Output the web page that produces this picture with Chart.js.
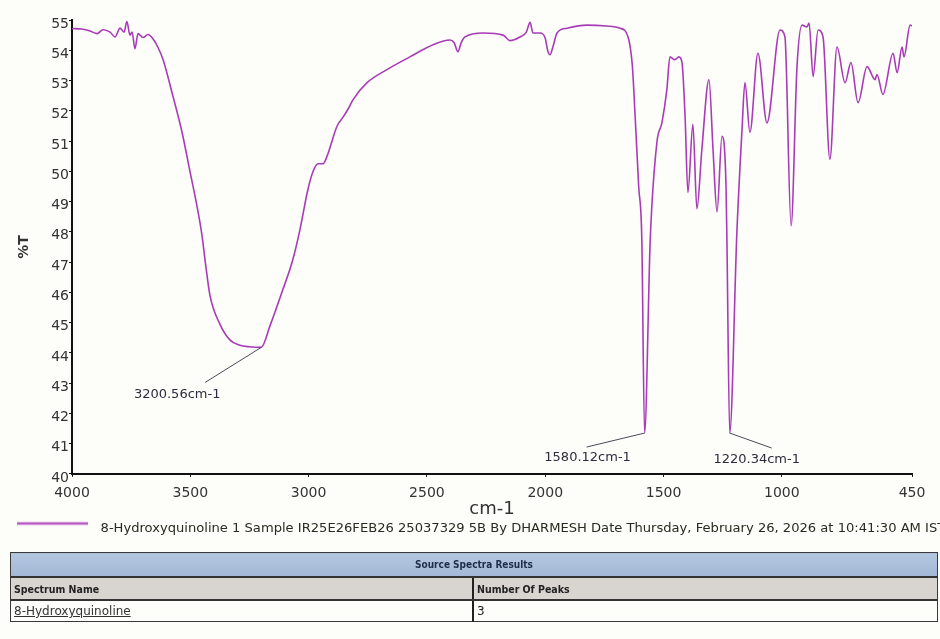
<!DOCTYPE html>
<html>
<head>
<meta charset="utf-8">
<script src="https://cdn.jsdelivr.net/npm/chart.js@4.4.1/dist/chart.umd.min.js"></script>
<style>
  html, body { margin: 0; padding: 0; background: #fdfdfa; }
  #wrap { position: relative; width: 940px; height: 639px; overflow: hidden; }
  #spectrum { position: absolute; left: 0; top: 0; }
  table.results {
    position: absolute; left: 10px; top: 552px; width: 928px;
    border-collapse: collapse; font-family: "DejaVu Sans", sans-serif; color: #222;
  }
  table.results td { padding: 0 3px; border: 1px solid #3a3a3a; white-space: nowrap; }
  table.results tr.head td {
    height: 23px; text-align: center; background: linear-gradient(#b4c7e0, #a3b8d6);
    font: bold 10px "DejaVu Sans Condensed", sans-serif; color: #1d2d4a;
    border-bottom: 2px solid #333;
  }
  table.results tr.cols td {
    height: 21px; background: #d8d5d1; font: bold 10.5px "DejaVu Sans Condensed", sans-serif;
    border-bottom: 2px solid #333;
  }
  table.results tr.vals td { height: 20px; background: #fdfdfa; font-size: 12px; }
  table.results td.split { border-right: 2px solid #222; }
  table.results a { color: #333; text-decoration: underline; }
</style>
</head>
<body>
<div id="wrap">
  <canvas id="spectrum" width="940" height="639"></canvas>
  <table class="results">
    <tr class="head"><td colspan="2">Source Spectra Results</td></tr>
    <tr class="cols"><td class="split" style="width:455px">Spectrum Name</td><td>Number Of Peaks</td></tr>
    <tr class="vals"><td class="split"><a>8-Hydroxyquinoline</a></td><td>3</td></tr>
  </table>
</div>
<script>
// IR spectrum of 8-hydroxyquinoline: wavenumber (cm-1) and %T
const wavenumbers = [
  4000, 3960, 3924, 3894, 3869, 3839, 3818, 3797, 3780, 3768, 3755, 3746, 3734, 3721, 3700, 3679, 3658, 3637,
  3615, 3573, 3535, 3501, 3472, 3451, 3435, 3417, 3375, 3332, 3290, 3250, 3200.56, 3163, 3113, 3066, 3036,
  3003, 2981, 2960, 2939, 2922, 2880, 2855, 2830, 2812, 2753, 2669, 2572, 2474, 2403, 2385, 2369, 2355, 2339,
  2263, 2178, 2149, 2107, 2080, 2064, 2052, 2022, 2000, 1990, 1980, 1968, 1950, 1908, 1823, 1739, 1684, 1650,
  1632, 1620, 1605, 1592, 1580.12, 1556, 1528, 1507, 1486, 1473, 1452, 1435, 1422, 1409, 1397, 1376, 1359,
  1338, 1308, 1291, 1274, 1253, 1236, 1232, 1220.34, 1190, 1169, 1156, 1135, 1101, 1063, 1008, 987, 961, 936,
  915, 894, 885, 868, 847, 826, 797, 767, 733, 708, 678, 640, 606, 598, 573, 530, 513, 492, 484, 458, 450
];
const transmittance = [
  54.72, 54.70, 54.64, 54.55, 54.68, 54.60, 54.44, 54.73, 54.60, 54.95, 54.50, 54.60, 54.05, 54.55, 54.42, 54.52, 54.38, 54.10,
  53.69, 52.47, 51.29, 49.98, 48.86, 47.90, 46.90, 45.90, 44.95, 44.42, 44.25, 44.20, 44.18, 44.90, 46.00, 47.10, 48.10,
  49.40, 50.00, 50.25, 50.25, 50.50, 51.49, 51.78, 52.10, 52.37, 52.93, 53.36, 53.78, 54.18, 54.34, 54.25, 53.95, 54.25, 54.44,
  54.57, 54.50, 54.32, 54.44, 54.60, 54.92, 54.57, 54.57, 54.40, 54.00, 53.85, 54.10, 54.57, 54.73, 54.83, 54.80, 54.73, 54.44,
  53.50, 51.80, 49.50, 47.80, 41.35, 47.80, 50.96, 51.60, 52.70, 53.78, 53.69, 53.78, 53.59, 51.80, 49.30, 51.55, 48.76,
  50.73, 53.03, 50.73, 48.66, 51.16, 49.52, 47.60, 41.35, 48.00, 51.29, 52.93, 51.29, 53.90, 51.60, 54.67, 54.44, 48.20, 53.46,
  54.83, 54.77, 54.90, 53.13, 54.67, 54.44, 50.40, 54.11, 52.93, 53.59, 52.27, 53.46, 53.03, 53.20, 52.54, 53.90, 53.26, 54.11, 53.78, 54.83, 54.80
];

// picked peaks
const peakWavenumbers = [3200.56, 1580.12, 1220.34];
const peakTransmittance = [44.18, 41.35, 41.35];
const peakLabels = ['3200.56cm-1', '1580.12cm-1', '1220.34cm-1'];

const xTickValues = [4000, 3500, 3000, 2500, 2000, 1500, 1000, 450];
const seriesName = '8-Hydroxyquinoline 1 Sample IR25E26FEB26 25037329 5B By DHARMESH Date Thursday, February 26, 2026 at 10:41:30 AM IST';

const points = wavenumbers.map((w, i) => ({ x: w, y: transmittance[i] }));

// leader line end (lx, ly) and label centre (tx, ty), in pixels from the peak point
const peakLabelOffsets = [
  { lx: -56, ly: 35, tx: -84, ty: 47 },
  { lx: -58, ly: 14, tx: -57, ty: 25 },
  { lx: 42, ly: 15, tx: 27, ty: 27 }
];

const peakLabelPlugin = {
  id: 'peakLabels',
  afterDatasetsDraw(chart) {
    const { ctx, scales: { x, y } } = chart;
    ctx.save();
    ctx.font = '13px "DejaVu Sans", sans-serif';
    ctx.textAlign = 'center';
    ctx.textBaseline = 'middle';
    peakWavenumbers.forEach((w, i) => {
      const px = x.getPixelForValue(w);
      const py = y.getPixelForValue(peakTransmittance[i]);
      const o = peakLabelOffsets[i];
      ctx.strokeStyle = '#4a4a58';
      ctx.lineWidth = 1;
      ctx.beginPath();
      ctx.moveTo(px, py);
      ctx.lineTo(px + o.lx, py + o.ly);
      ctx.stroke();
      ctx.fillStyle = '#2c2c3e';
      ctx.fillText(peakLabels[i], px + o.tx, py + o.ty);
    });
    ctx.restore();
  }
};

// legend sample: a short line sitting a little above the text centre
const legendSwatch = document.createElement('canvas');
legendSwatch.width = 77;
legendSwatch.height = 16;
(() => {
  const c = legendSwatch.getContext('2d');
  c.strokeStyle = '#b556c2';
  c.lineWidth = 2.5;
  c.beginPath();
  c.moveTo(0, 3);
  c.lineTo(71, 3);
  c.stroke();
})();

new Chart(document.getElementById('spectrum'), {
  type: 'line',
  data: {
    datasets: [{
      label: seriesName,
      data: points,
      borderColor: '#a83cb6',
      borderWidth: 1.6,
      pointRadius: 0,
      fill: false,
      cubicInterpolationMode: 'monotone'
    }]
  },
  options: {
    responsive: false,
    animation: false,
    layout: { padding: { left: 0, top: 20, right: 0, bottom: 94 } },
    plugins: {
      tooltip: { enabled: false },
      legend: {
        position: 'bottom',
        align: 'start',
        labels: {
          usePointStyle: true,
          pointStyle: legendSwatch,
          pointStyleWidth: 77,
          boxHeight: 13,
          padding: 17,
          color: '#2a2a20',
          font: { family: '"DejaVu Sans", sans-serif', size: 13.1 }
        }
      }
    },
    scales: {
      x: {
        type: 'linear',
        reverse: true,
        min: 450,
        max: 4000,
        afterBuildTicks(scale) { scale.ticks = xTickValues.map(v => ({ value: v })); },
        afterFit(scale) { scale.height = 31; },
        border: { display: true, color: '#111', width: 2 },
        grid: { display: true, drawOnChartArea: false, tickLength: 3, color: '#111' },
        ticks: {
          padding: 8,
          maxRotation: 0,
          autoSkip: false,
          color: '#333',
          font: { family: '"DejaVu Sans", sans-serif', size: 14 },
          callback: v => String(v)
        },
        title: {
          display: true,
          text: 'cm-1',
          color: '#333',
          padding: { top: 0, bottom: -15 },
          font: { family: '"DejaVu Sans", sans-serif', size: 18 }
        }
      },
      y: {
        min: 40,
        max: 55,
        afterFit(scale) { scale.width = 72; },
        border: { display: true, color: '#111', width: 2 },
        grid: { display: true, drawOnChartArea: false, tickLength: 3, color: '#111' },
        ticks: {
          stepSize: 1,
          padding: 0,
          labelOffset: 4,
          color: '#333',
          font: { family: '"DejaVu Sans", sans-serif', size: 14 }
        },
        title: {
          display: true,
          text: '%T',
          color: '#333',
          padding: { top: 16, bottom: 0 },
          font: { family: '"DejaVu Sans", sans-serif', size: 14, weight: 'bold' }
        }
      },
      // empty right-hand margin beside the plot
      yRight: {
        position: 'right',
        min: 40,
        max: 55,
        afterFit(scale) { scale.width = 28; },
        border: { display: false },
        grid: { display: false },
        ticks: { display: false }
      }
    }
  },
  plugins: [peakLabelPlugin]
});
</script>
</body>
</html>
